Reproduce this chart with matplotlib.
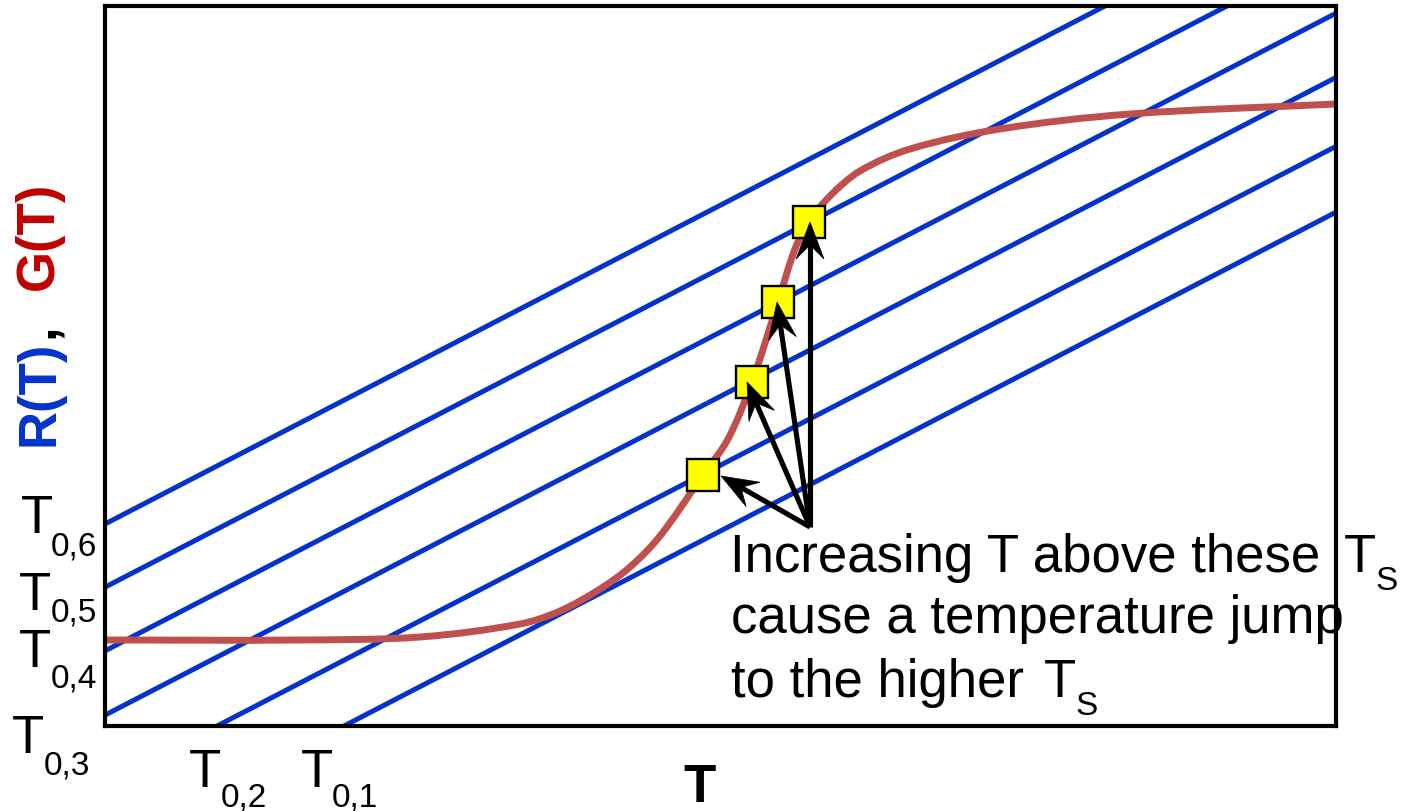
import matplotlib
matplotlib.use('Agg')
import matplotlib.pyplot as plt
import numpy as np
from matplotlib.patches import Polygon, PathPatch
from matplotlib.path import Path
from matplotlib.lines import Line2D
from matplotlib.transforms import IdentityTransform

plt.rcParams['font.family'] = ['Liberation Sans', 'DejaVu Sans']

# ---------------- data ----------------
# R(T) = slope * (T - T0,k) : six straight heat-removal lines
slope = 0.518
T0 = [2.39, 1.12, -0.21, -1.45, -2.68, -3.90]          # T0,1 ... T0,6
T0_labels = ['0,1', '0,2', '0,3', '0,4', '0,5', '0,6']

# G(T): sigmoid heat-generation curve
G_T = [0.00, 1.95, 3.15, 4.15, 4.55, 4.95, 5.25, 5.55, 5.98, 6.23, 6.47,
       6.73, 6.90, 7.04, 7.25, 7.55, 8.05, 8.95, 10.25, 12.31]
G_val = [0.86, 0.86, 0.89, 1.02, 1.15, 1.37, 1.59, 1.90, 2.51, 2.87, 3.44,
         4.24, 4.77, 5.04, 5.30, 5.55, 5.77, 5.97, 6.12, 6.22]

# steady states marked with squares
sq_T = [5.98, 6.47, 6.73, 7.04]
sq_G = [2.51, 3.44, 4.24, 5.04]

# arrows: common origin -> tips
arrow_origin = (7.05, 1.99)
arrow_tip_T = [6.16, 6.42, 6.72, 7.05]
arrow_tip_G = [2.50, 3.44, 4.24, 5.04]

# ---------------- figure ----------------
W, H = 1403, 812
fig = plt.figure(figsize=(W / 100, H / 100), dpi=100)
ax = fig.add_axes([105 / W, (H - 727) / H, 1231 / W, 720 / H])
ax.set_xlim(0, 12.31)
ax.set_ylim(0, 7.2)
ax.set_xticks([])
ax.set_yticks([])
for s in ax.spines.values():
    s.set_linewidth(3)
    s.set_color('black')
    s.set_zorder(5)

BLUE = '#0433CC'
RED = '#C0504D'
ident = IdentityTransform()

xs = np.array([-6.0, 14.0])
for t0 in T0:
    ax.plot(xs, slope * (xs - t0), color=BLUE, lw=3.6, solid_capstyle='butt', zorder=2)

# smooth drawing of G(T) through its points (cubic Bezier segments)
P = ax.transData.transform(np.column_stack([G_T, G_val]))
verts = [P[0]]
codes = [Path.MOVETO]
npts = len(P)
tang = []
for i in range(npts):
    a = P[max(i - 1, 0)]
    b = P[min(i + 1, npts - 1)]
    d = b - a
    tang.append(d / np.hypot(*d))
for i in range(npts - 1):
    seg = np.hypot(*(P[i + 1] - P[i]))
    verts += [P[i] + tang[i] * seg / 3, P[i + 1] - tang[i + 1] * seg / 3, P[i + 1]]
    codes += [Path.CURVE4] * 3
curve = PathPatch(Path(verts, codes), fc='none', ec=RED, lw=5, transform=ident,
                  zorder=3, capstyle='butt')
ax.add_patch(curve)
curve.set_transform(ident)

ax.plot(sq_T, sq_G, 's', ms=23, mfc='#FFFF00', mec='black', mew=1.7, zorder=6,
        clip_on=False)

# arrows with notched heads, built in display space
p0 = ax.transData.transform(arrow_origin)
for tx, ty in zip(arrow_tip_T, arrow_tip_G):
    p1 = ax.transData.transform((tx, ty))
    u = (p1 - p0) / np.hypot(*(p1 - p0))
    n = np.array([-u[1], u[0]])
    L, Wd = 37.0, 14.0
    base = p1 - L * u
    notch = p1 - 0.62 * L * u
    fig.add_artist(Line2D([p0[0], notch[0]], [p0[1], notch[1]], color='black',
                          lw=3.7, transform=ident, zorder=7,
                          solid_capstyle='butt'))
    fig.add_artist(Polygon([p1, base + Wd * n, notch, base - Wd * n], closed=True,
                           fc='black', ec='black', lw=0.5, transform=ident,
                           zorder=8))


def ptext(px, py, s, **kw):
    fig.text(px / W, 1 - py / H, s, **kw)


# T0 labels
T_pos = {'0,6': (22, 533, 52, 555), '0,5': (20, 610, 52, 622),
         '0,4': (20, 667, 52, 687), '0,3': (13, 753, 45, 775),
         '0,2': (190, 787, 222, 807), '0,1': (302, 787, 333, 807)}
for lab in T0_labels:
    tx, tb, sx, sb = T_pos[lab]
    ptext(tx - 1, tb, 'T', fontsize=38, ha='left', va='baseline')
    ptext(sx - 1, sb, lab, fontsize=24, ha='left', va='baseline')

# annotation
ptext(730, 572, 'Increasing T above these', fontsize=38, ha='left', va='baseline', zorder=9)
ptext(1344, 572, 'T', fontsize=38, ha='left', va='baseline', zorder=9)
ptext(1375, 590, 'S', fontsize=24, ha='left', va='baseline', zorder=9)
ptext(731, 633, 'cause a temperature jump', fontsize=38, ha='left', va='baseline', zorder=9)
ptext(731, 697, 'to the higher', fontsize=38, ha='left', va='baseline', zorder=9)
ptext(1044, 697, 'T', fontsize=38, ha='left', va='baseline', zorder=9)
ptext(1075, 715, 'S', fontsize=24, ha='left', va='baseline', zorder=9)

# axis labels
ptext(700, 802, 'T', fontsize=38, fontweight='bold', ha='center', va='baseline')
ptext(53, 393, 'R(T)', fontsize=38, fontweight='bold', color=BLUE, rotation=90,
      rotation_mode='anchor', ha='center', va='baseline')
ptext(53, 331, ',', fontsize=38, fontweight='bold', color='black', rotation=90,
      rotation_mode='anchor', ha='center', va='baseline')
ptext(53, 236, 'G(T)', fontsize=38, fontweight='bold', color='#C00000', rotation=90,
      rotation_mode='anchor', ha='center', va='baseline')

fig.savefig('out.png', dpi=100)
